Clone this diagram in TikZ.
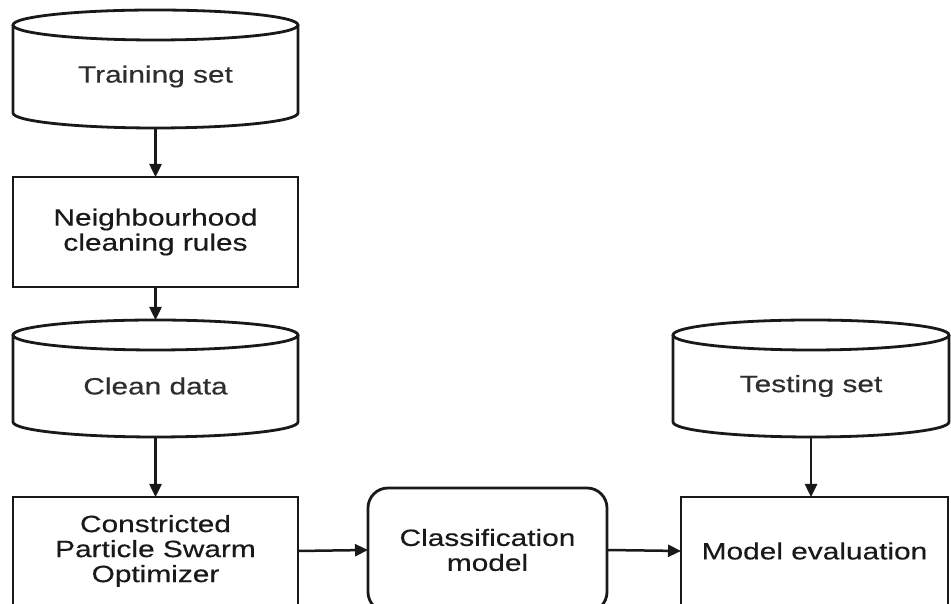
\documentclass[tikz,border=0pt]{standalone}
\usepackage{fontspec}
\newfontfamily\labfont[FakeStretch=1.27,FakeBold=0.4]{Liberation Sans}
\usetikzlibrary{arrows.meta}
\newcommand\dbcyl[2]{%
  \draw[shapeline] (#1.north west) -- ([yshift=15pt]#1.south west)
    arc[start angle=180,end angle=360,x radius=#2,y radius=15pt] -- (#1.north east);
  \draw[shapeline] (#1.north) ellipse[x radius=#2,y radius=15pt];
}
\begin{document}
\begin{tikzpicture}[x=1pt,y=1pt,
  every node/.style={font=\labfont\fontsize{23.5}{25}\selectfont, text=black!82,
    align=center, inner sep=0pt, outer sep=0pt},
  shapeline/.style={line width=2.8pt, black!90},
  boxnode/.style={draw, shapeline, minimum width=285pt, minimum height=108pt},
  roundbox/.style={draw, shapeline, rounded corners=20pt, minimum width=239pt, minimum height=124pt},
  cylbody/.style={minimum height=102pt},
  flow/.style={line width=2.5pt, black!90, -{Triangle[length=13pt,width=12pt]}}
]
\useasboundingbox (0,0) rectangle (951,604);
\fill[white] (0,0) rectangle (951,604);

\node[cylbody, minimum width=285pt, minimum height=103pt] (train) at (155.5,527.5) {Training set};
\node[boxnode, minimum height=110pt] (ncr) at (155.5,372) {Neighbourhood\\cleaning rules};
\node[cylbody, minimum width=285pt] (clean) at (155.5,218) {Clean data};
\node[boxnode] (cpso) at (155.5,53) {Constricted\\Particle Swarm\\Optimizer};
\node[roundbox] (cls) at (487.5,54) {Classification\\model};
\node[cylbody, minimum width=276pt] (test) at (811,218) {Testing set};
\node[boxnode, minimum width=267pt] (eval) at (814.5,53) {Model evaluation};

\dbcyl{train}{142.5pt}
\dbcyl{clean}{142.5pt}
\dbcyl{test}{138pt}

\draw[flow] (train.south) -- (ncr.north);
\draw[flow] (ncr.south) -- ([yshift=15pt]clean.north);
\draw[flow] (clean.south) -- (cpso.north);
\draw[flow] (cpso.east) -- (cls.west);
\draw[flow] (cls.east) -- (eval.west);
\draw[flow] (test.south) -- (test.south |- eval.north);
\end{tikzpicture}
\end{document}
